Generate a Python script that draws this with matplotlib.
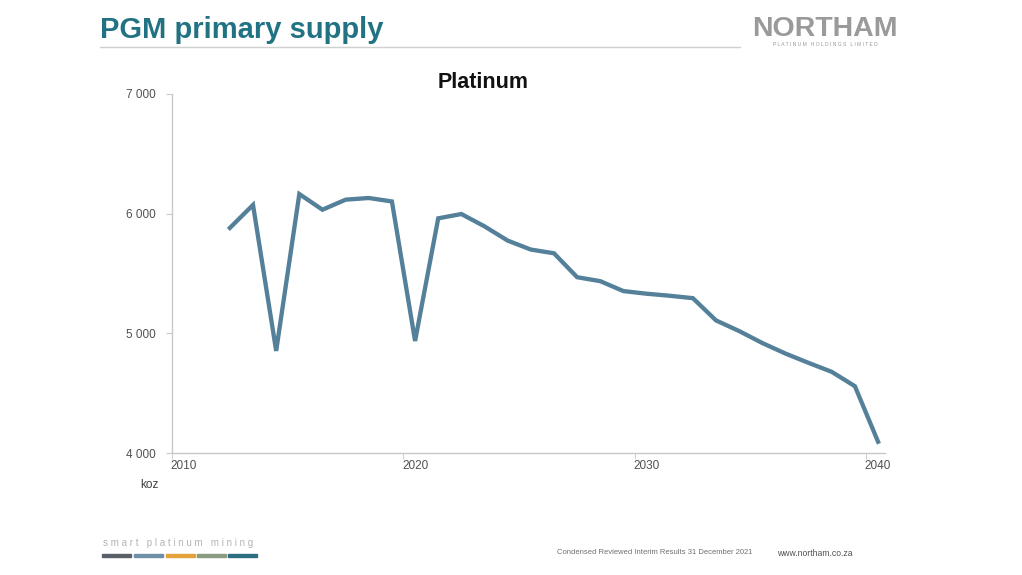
import matplotlib.pyplot as plt
from matplotlib.patches import Rectangle
from matplotlib.lines import Line2D
from matplotlib.ticker import FuncFormatter

years = list(range(2012, 2041))
supply = [5881, 6073, 4853, 6164, 6033, 6117, 6131, 6102, 4936, 5961,
          5997, 5894, 5775, 5700, 5669, 5469, 5436, 5353, 5331, 5314,
          5294, 5108, 5019, 4919, 4831, 4753, 4678, 4558, 4094]
year_ticks = [2010, 2020, 2030, 2040]
y_ticks = [4000, 5000, 6000, 7000]

W, H = 1022, 575
fig = plt.figure(figsize=(W / 100, H / 100), dpi=100)
plt.rcParams['font.family'] = ['Liberation Sans', 'DejaVu Sans']
narrow = ['Liberation Sans Narrow', 'Liberation Sans', 'DejaVu Sans']

ax = fig.add_axes([172 / W, 1 - 453 / H, (885 - 172) / W, (453 - 94) / H])
ax.plot(years, supply, color='#54809a', lw=3.1, solid_joinstyle='miter')

ax.set_xlim(2009.5, 2040.3)
ax.set_ylim(4000, 7000)
for s in ['top', 'right']:
    ax.spines[s].set_visible(False)
for s in ['left', 'bottom']:
    ax.spines[s].set_color('#c8c8c8')
    ax.spines[s].set_linewidth(1.0)

# labels sit on the year, tick marks half a year to the left
ax.set_xticks(year_ticks)
ax.set_xticklabels([str(y) for y in year_ticks], family=narrow, fontsize=8.5, color='#505050')
ax.tick_params(axis='x', which='major', length=0, pad=5)
ax.set_xticks([y - 0.5 for y in year_ticks], minor=True)
ax.tick_params(axis='x', which='minor', length=4, direction='out', color='#c8c8c8')

ax.set_yticks(y_ticks)
ax.yaxis.set_major_formatter(FuncFormatter(lambda v, p: f"{int(v):,}".replace(',', ' ')))
ax.tick_params(axis='y', length=4, color='#c8c8c8', labelcolor='#505050', pad=8)
for lab in ax.get_yticklabels():
    lab.set_family(narrow)
    lab.set_fontsize(8.5)

fig.text(140 / W, 1 - 485 / H, 'koz', family=narrow, fontsize=8.5, color='#404040',
         ha='left', va='center')
fig.text(483 / W, 1 - 82 / H, 'Platinum', fontsize=15.5, fontweight='bold',
         color='#111111', ha='center', va='center')

# slide header
fig.text(100 / W, 1 - 30 / H, 'PGM primary supply', fontsize=21, fontweight='bold',
         color='#217383', ha='left', va='center')
fig.add_artist(Line2D([100 / W, 740 / W], [1 - 47 / H, 1 - 47 / H], color='#d0d0d0', lw=1))
fig.text(825 / W, 1 - 29 / H, 'NORTHAM', fontsize=20.5, fontweight='bold',
         color='#9a9a9a', ha='center', va='center')
fig.text(825 / W, 1 - 45 / H, 'P L A T I N U M   H O L D I N G S   L I M I T E D',
         fontsize=3.6, color='#9a9a9a', ha='center', va='center')

# footer
fig.text(103 / W, 1 - 543 / H, 's m a r t   p l a t i n u m   m i n i n g', fontsize=7.0,
         color='#b4b4b4', ha='left', va='center')
bar_colors = ['#5a6068', '#6f8fa6', '#e3a33a', '#8a9b80', '#2d6e80']
bar_x = [102, 134, 166, 197, 228]
for bx, c in zip(bar_x, bar_colors):
    fig.add_artist(Rectangle((bx / W, 1 - 557 / H), 29 / W, 3 / H, color=c,
                             transform=fig.transFigure))
fig.text(557 / W, 1 - 553 / H, 'Condensed Reviewed Interim Results 31 December 2021',
         fontsize=5.5, color='#707070', ha='left', va='center')
fig.text(777 / W, 1 - 553 / H, 'www.northam.co.za', fontsize=6.2, color='#505050',
         ha='left', va='center')

fig.savefig('out.png', dpi=100)
